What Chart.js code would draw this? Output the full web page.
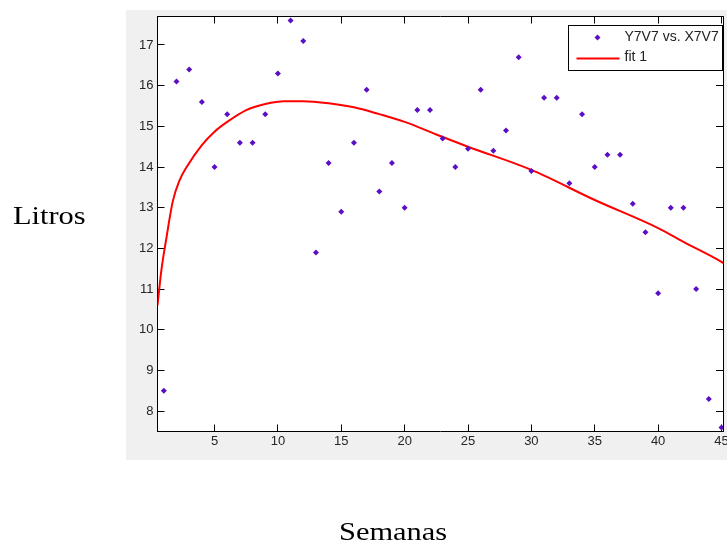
<!DOCTYPE html>
<html>
<head>
<meta charset="utf-8">
<script src="https://cdn.jsdelivr.net/npm/chart.js@4.4.1/dist/chart.umd.min.js"></script>
<style>
  body { margin: 0; background: #fff; }
  #wrap { position: relative; width: 727px; height: 547px; overflow: hidden; }
  #panel { position: absolute; left: 126px; top: 10px; width: 601px; height: 450px; background: #f0f0f0; }
  #myChart { position: absolute; left: 0; top: 0; }
  .lbl { position: absolute; font-family: "Liberation Serif", "Times New Roman", serif; font-size: 26px;
         line-height: 26px; color: #000; white-space: nowrap; transform: scaleX(1.17); transform-origin: left top; }
</style>
</head>
<body>
<div id="wrap">
  <div id="panel"></div>
  <canvas id="myChart" width="727" height="547"></canvas>
  <div class="lbl" style="left:12.5px; top:203px;">Litros</div>
  <div class="lbl" style="left:339px; top:519px;">Semanas</div>
</div>
<script>
// weeks and litres (Y7V7 vs. X7V7)
var weeks = [1, 2, 3, 4, 5, 6, 7, 8, 9, 10, 11, 12, 13, 14, 15, 16, 17, 18, 19, 20, 21, 22, 23,
             24, 25, 26, 27, 28, 29, 30, 31, 32, 33, 34, 35, 36, 37, 38, 39, 40, 41, 42, 43, 44, 45];
var litres = [8.5, 16.1, 16.4, 15.6, 14.0, 15.3, 14.6, 14.6, 15.3, 16.3, 17.6, 17.1, 11.9, 14.1, 12.9,
              14.6, 15.9, 13.4, 14.1, 13.0, 15.4, 15.4, 14.7, 14.0, 14.45, 15.9, 14.4, 14.9, 16.7, 13.9,
              15.7, 15.7, 13.6, 15.3, 14.0, 14.3, 14.3, 13.1, 12.4, 10.9, 13.0, 13.0, 11.0, 8.3, 7.6];

// fit 1
var fitX = [0.5, 0.8, 1.2, 1.7, 2.25, 2.8, 4, 5, 6, 7.5, 9, 10.5, 12, 14, 16, 18, 20, 22.5, 25, 30, 35, 40, 42, 45, 45.2];
var fitY = [10.6, 11.45, 12.25, 13.15, 13.68, 14.0, 14.54, 14.87, 15.11, 15.4, 15.55, 15.62, 15.62, 15.57,
            15.47, 15.3, 15.11, 14.8, 14.5, 13.93, 13.19, 12.5, 12.16, 11.67, 11.63];

var xTicks = [5, 10, 15, 20, 25, 30, 35, 40, 45];
var yTicks = [8, 9, 10, 11, 12, 13, 14, 15, 16, 17];

var pointColor = '#5a0fc4';
var tickFont = { family: '"Liberation Sans", Arial, sans-serif', size: 13 };

function setTicks(list) {
  return function (s) { s.ticks = list.map(function (v) { return { value: v }; }); };
}

var whiteArea = {
  id: 'whiteArea',
  beforeDraw: function (chart) {
    var a = chart.chartArea, ctx = chart.ctx;
    ctx.save();
    ctx.fillStyle = '#fff';
    ctx.fillRect(a.left, a.top, a.right - a.left, a.bottom - a.top);
    ctx.restore();
  }
};

var boxLegend = {
  id: 'boxLegend',
  afterDraw: function (chart) {
    var a = chart.chartArea, ctx = chart.ctx;
    var ds = chart.data.datasets;
    var w = 154, h = 45;
    var x0 = Math.round(a.right - 1 - w) + 0.5, y0 = Math.round(a.top + 8) + 0.5;
    ctx.save();
    ctx.fillStyle = '#fff';
    ctx.fillRect(x0, y0, w, h);
    ctx.strokeStyle = '#000';
    ctx.lineWidth = 1;
    ctx.strokeRect(x0, y0, w, h);
    // marker row
    var my = y0 + 12;
    ctx.fillStyle = pointColor;
    ctx.beginPath();
    ctx.moveTo(x0 + 29, my - 3);
    ctx.lineTo(x0 + 32, my);
    ctx.lineTo(x0 + 29, my + 3);
    ctx.lineTo(x0 + 26, my);
    ctx.closePath();
    ctx.fill();
    // line row
    var ly = y0 + 33;
    ctx.strokeStyle = 'red';
    ctx.lineWidth = 2;
    ctx.beginPath();
    ctx.moveTo(x0 + 8, ly);
    ctx.lineTo(x0 + 51, ly);
    ctx.stroke();
    ctx.fillStyle = '#222';
    ctx.font = '14px "Liberation Sans", Arial, sans-serif';
    ctx.textBaseline = 'middle';
    ctx.fillText(ds[0].label, x0 + 56, my);
    ctx.fillText(ds[1].label, x0 + 56, ly - 1);
    ctx.restore();
  }
};

var ctx = document.getElementById('myChart').getContext('2d');
var myChart = new Chart(ctx, {
  type: 'scatter',
  data: {
    datasets: [{
      label: 'Y7V7 vs. X7V7',
      data: weeks.map(function (w, i) { return { x: w, y: litres[i] }; }),
      pointStyle: 'rectRot',
      pointRadius: 3,
      backgroundColor: pointColor,
      borderColor: pointColor,
      borderWidth: 0,
      showLine: false
    }, {
      label: 'fit 1',
      data: fitX.map(function (v, i) { return { x: v, y: fitY[i] }; }),
      showLine: true,
      pointRadius: 0,
      borderColor: '#ff0000',
      borderWidth: 2,
      cubicInterpolationMode: 'monotone'
    }]
  },
  options: {
    responsive: false,
    animation: false,
    events: [],
    layout: { padding: { left: 126, top: 16.5, right: 0.5, bottom: 86.5 } },
    plugins: { legend: { display: false }, tooltip: { enabled: false } },
    scales: {
      x: {
        type: 'linear', position: 'bottom', min: 0.5, max: 45.12,
        afterBuildTicks: setTicks(xTicks),
        afterFit: function (s) { s.height = 29; s.paddingLeft = 0; s.paddingRight = 0; },
        grid: { drawOnChartArea: false, tickLength: -7, tickColor: '#000' },
        border: { color: '#000', width: 1 },
        ticks: { color: '#262626', font: tickFont, padding: 9.5, maxRotation: 0 }
      },
      x2: {
        type: 'linear', position: 'top', min: 0.5, max: 45.12,
        afterBuildTicks: setTicks(xTicks),
        afterFit: function (s) { s.height = 0; s.paddingLeft = 0; s.paddingRight = 0; },
        grid: { drawOnChartArea: false, tickLength: -7, tickColor: '#000' },
        border: { color: '#000', width: 1 },
        ticks: { display: false }
      },
      y: {
        type: 'linear', position: 'left', min: 7.5, max: 17.7,
        afterBuildTicks: setTicks(yTicks),
        afterFit: function (s) { s.width = 31.5; s.paddingTop = 0; s.paddingBottom = 0; },
        grid: { drawOnChartArea: false, tickLength: -7, tickColor: '#000' },
        border: { color: '#000', width: 1 },
        ticks: { color: '#262626', font: tickFont, padding: 11 }
      },
      y2: {
        type: 'linear', position: 'right', min: 7.5, max: 17.7,
        afterBuildTicks: setTicks(yTicks),
        afterFit: function (s) { s.width = 0; s.paddingTop = 0; s.paddingBottom = 0; },
        grid: { drawOnChartArea: false, tickLength: -7, tickColor: '#000' },
        border: { color: '#000', width: 1 },
        ticks: { display: false }
      }
    }
  },
  plugins: [whiteArea, boxLegend]
});
</script>
</body>
</html>
